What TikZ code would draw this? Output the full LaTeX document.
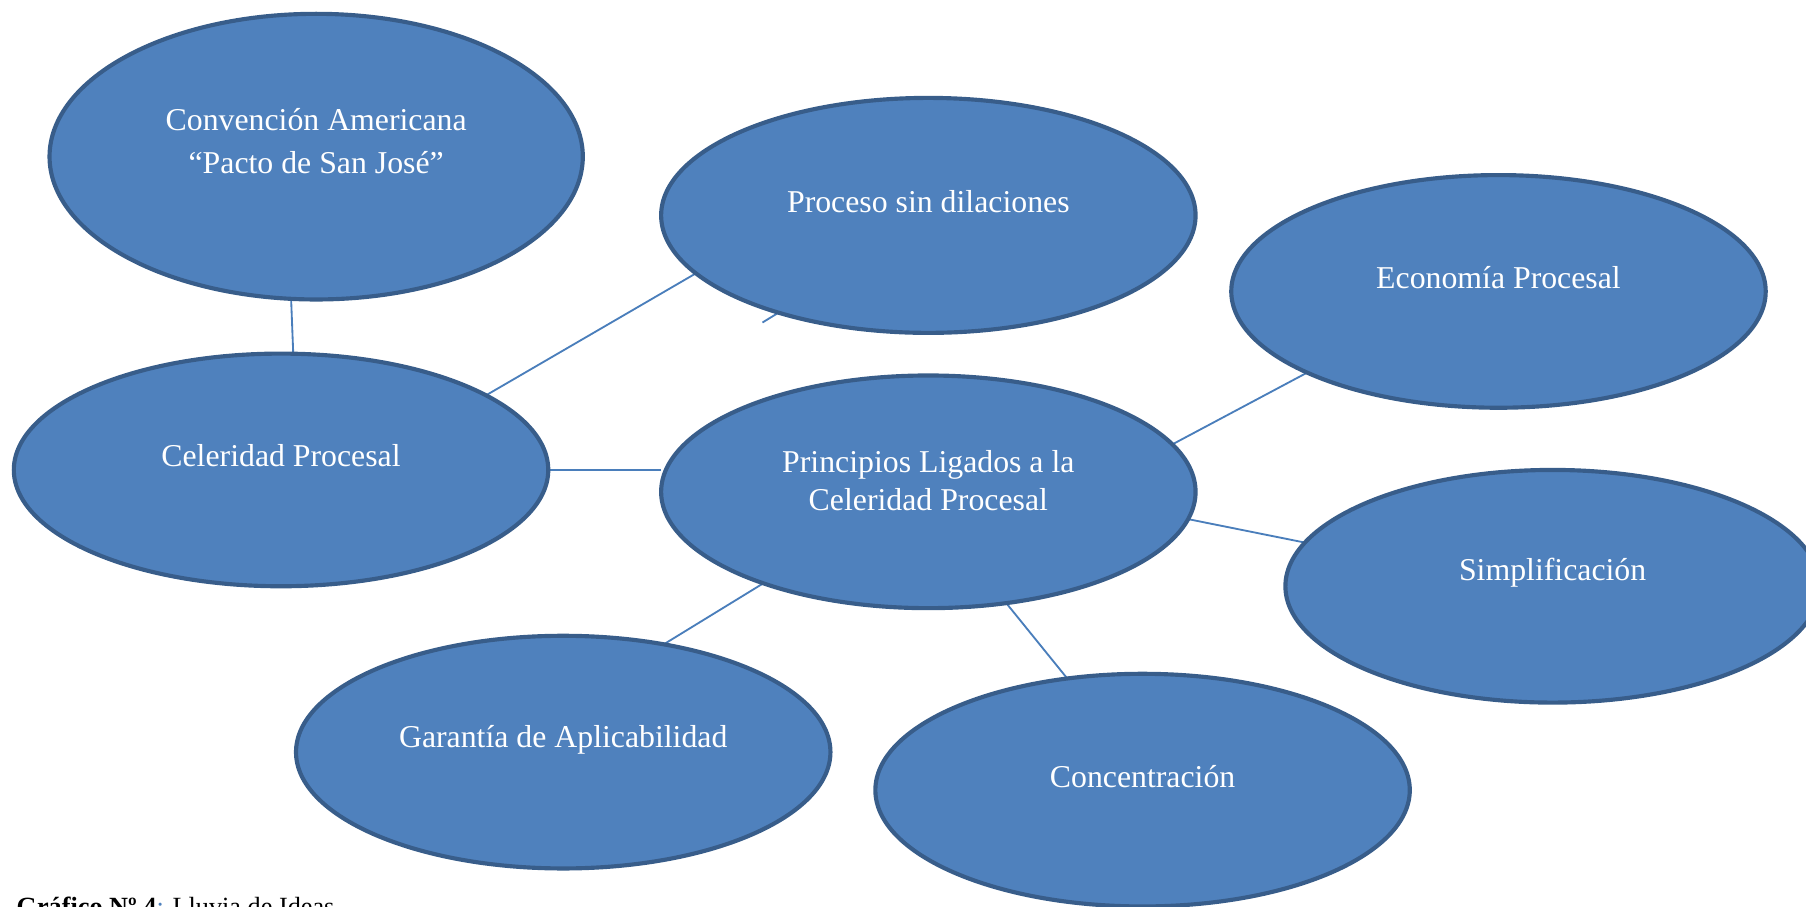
\documentclass[tikz,border=0pt]{standalone}
\usepackage{fontspec}
\setmainfont{Liberation Serif}
\usetikzlibrary{shapes.geometric,backgrounds}

\definecolor{ideafill}{HTML}{4F81BD}
\definecolor{ideaedge}{HTML}{385D8A}
\definecolor{linkblue}{HTML}{4A7EBB}

\tikzset{
    idea/.style={ellipse, draw=ideaedge, fill=ideafill, line width=1.8pt,
        minimum width=232pt, minimum height=101pt, inner sep=0pt, outer sep=0pt},
    txt/.style={text=white, font=\fontsize{13.8}{16.5}\selectfont, align=center},
    link/.style={draw=linkblue, line width=0.8pt}
}

\begin{document}
\begin{tikzpicture}[x=0.5pt,y=-0.5pt]
\useasboundingbox (0,0) rectangle (1568,787);

% ----------------------------------------------------------
% Ideas
% ----------------------------------------------------------
\node[idea, minimum width=231.5pt, minimum height=124pt,
      label={[txt,font=\fontsize{13.8}{18.5}\selectfont,yshift=6.75pt]center:{Convención Americana\\“Pacto de San José”}}]
      (conv) at (274.5,136) {};
\node[idea, minimum height=102pt, label={[txt,yshift=6pt]center:Proceso sin dilaciones}]
      (proc) at (806,187) {};
\node[idea, label={[txt,yshift=6pt]center:Economía Procesal}]
      (econ) at (1301,253) {};
\node[idea, label={[txt,yshift=6pt]center:Celeridad Procesal}]
      (cel) at (244,408) {};
\node[idea, label={[txt,yshift=5pt]center:{Principios Ligados a la\\Celeridad Procesal}}]
      (prin) at (806,427) {};
\node[idea, label={[txt,yshift=6pt]center:Simplificación}]
      (simp) at (1348,509) {};
\node[idea, label={[txt,yshift=5.5pt]center:Garantía de Aplicabilidad}]
      (gar) at (489,653) {};
\node[idea, label={[txt,yshift=6pt]center:Concentración}]
      (conc) at (992,686) {};

% ----------------------------------------------------------
% Links
% ----------------------------------------------------------
\coordinate (stub) at (662,280);
\begin{scope}[on background layer]
\foreach \from/\to in {conv.260/cel.84, cel.20/proc.194, prin.11/econ.203,
                       prin.354/simp.170, prin.305/conc.124, prin.209/gar.47,
                       proc.213/stub} {
    \draw[link] (\from) -- (\to);
}
\draw[link] (cel.east) -- (cel.east -| prin.west);
\end{scope}

% ----------------------------------------------------------
% Caption
% ----------------------------------------------------------
\node[anchor=base west, inner sep=0pt, font=\fontsize{11.4}{13}\selectfont]
      (cap) at (14,795) {\textbf{Gráfico Nº 4}\textcolor{ideafill}{:} Lluvia de Ideas};

\end{tikzpicture}
\end{document}
